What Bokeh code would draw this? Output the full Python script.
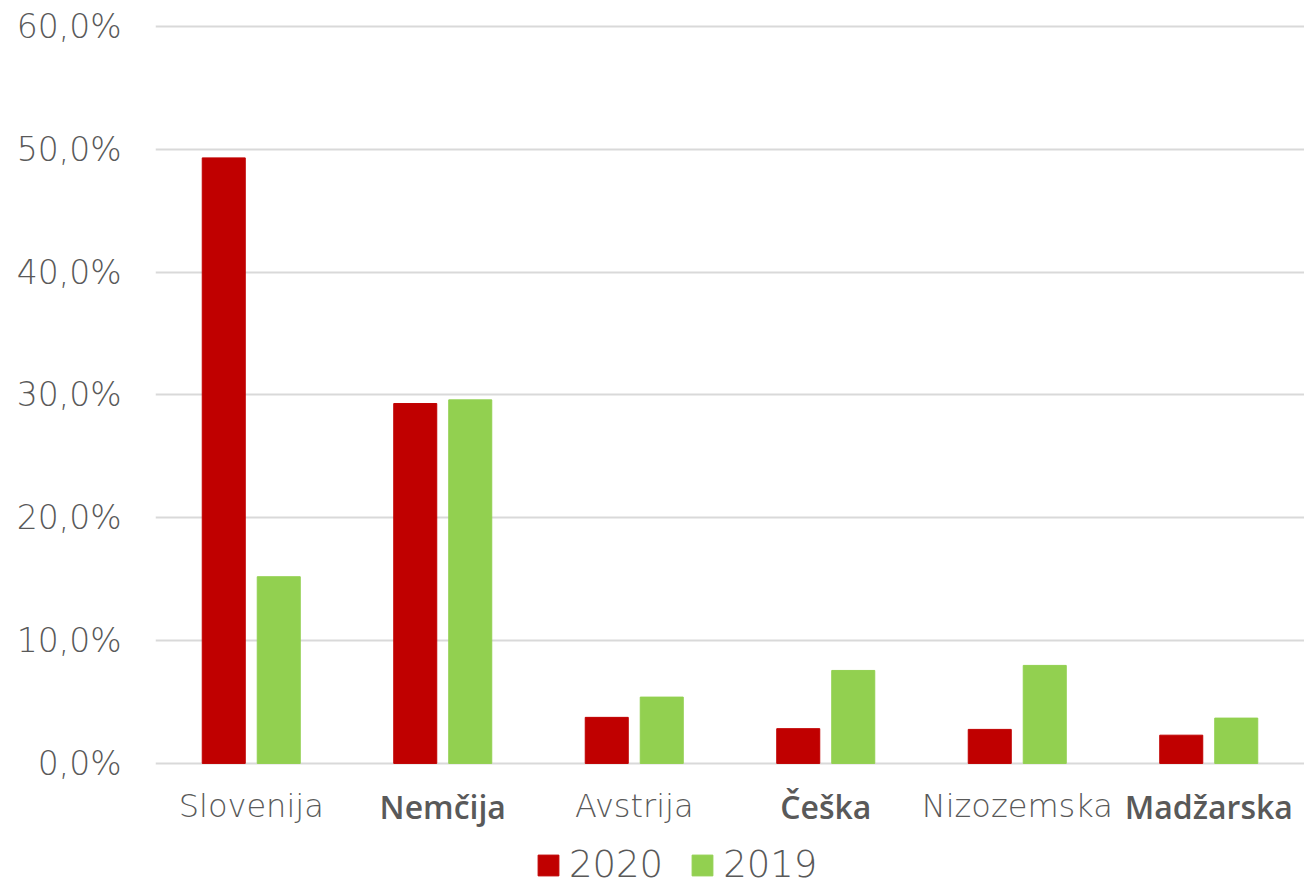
from bokeh.plotting import figure
from bokeh.models import ColumnDataSource, FixedTicker, Legend, LegendItem
from bokeh.transform import dodge
from bokeh.core.properties import value
from bokeh.embed import file_html
from bokeh.resources import INLINE

categories = ["Slovenija", "Nemčija", "Avstrija", "Češka", "Nizozemska", "Madžarska"]
bold_categories = ["Nemčija", "Češka", "Madžarska"]
v2020 = [49.3, 29.3, 3.75, 2.83, 2.77, 2.3]
v2019 = [15.2, 29.6, 5.4, 7.57, 7.98, 3.69]
y_ticks = [0, 10, 20, 30, 40, 50, 60]
y_tick_labels = ["0,0%", "10,0%", "20,0%", "30,0%", "40,0%", "50,0%", "60,0%"]
series_names = ["2020", "2019"]

LIGHT = "DejaVu Sans Light"
BOLD = "Open Sans SemiBold"
GREY = "#595959"

# frame: top just above 60 %, bottom extends below 0 to hold the category labels and legend
Y_MAX = 60.16
Y_MIN = -10.02
LABEL_Y = -3.5

src = ColumnDataSource(dict(cat=categories, a=v2020, b=v2019))

p = figure(x_range=categories, y_range=(Y_MIN, Y_MAX), width=1304, height=886,
           output_backend="svg", toolbar_location=None,
           min_border_left=155, min_border_right=0, min_border_top=24,
           min_border_bottom=0)
p.outline_line_color = None
p.background_fill_color = "white"

r1 = p.vbar(x=dodge("cat", -0.1436, range=p.x_range), top="a", width=0.2246,
            source=src, fill_color="#C00000", line_color="#C00000")
r2 = p.vbar(x=dodge("cat", 0.1436, range=p.x_range), top="b", width=0.2246,
            source=src, fill_color="#92D050", line_color="#92D050")

p.xaxis.visible = False
p.xgrid.grid_line_color = None
p.ygrid.grid_line_color = "#D9D9D9"
p.ygrid.grid_line_width = 2
p.yaxis.ticker = FixedTicker(ticks=y_ticks)
p.ygrid.ticker = FixedTicker(ticks=y_ticks)
p.yaxis.major_label_overrides = {t: l for t, l in zip(y_ticks, y_tick_labels)}
p.yaxis.axis_line_color = None
p.yaxis.major_tick_line_color = None
p.yaxis.minor_tick_line_color = None
p.yaxis.major_label_text_font = LIGHT
p.yaxis.major_label_text_font_size = "33px"
p.yaxis.major_label_text_color = GREY
p.yaxis.major_label_standoff = 28

light = [c for c in categories if c not in bold_categories]
bold = [c for c in categories if c in bold_categories]
p.text(x=light, y=[LABEL_Y] * len(light), text=light, text_font=value(LIGHT),
       text_font_size="32px", text_color=GREY, text_align="center",
       text_baseline="middle")
p.text(x=bold, y=[LABEL_Y] * len(bold), text=bold, text_font=value(BOLD),
       text_font_size="32px", text_color=GREY,
       text_align="center", text_baseline="middle")

legend = Legend(items=[LegendItem(label=series_names[0], renderers=[r1]),
                       LegendItem(label=series_names[1], renderers=[r2])],
                orientation="horizontal", location=(380, 0),
                glyph_width=26, glyph_height=26, label_text_font=LIGHT,
                label_text_font_size="37px", label_text_color=GREY,
                spacing=26, label_standoff=8, padding=0, margin=0,
                border_line_color=None, background_fill_alpha=0)
p.add_layout(legend, "center")

open("out.html", "w").write(file_html(p, INLINE))
